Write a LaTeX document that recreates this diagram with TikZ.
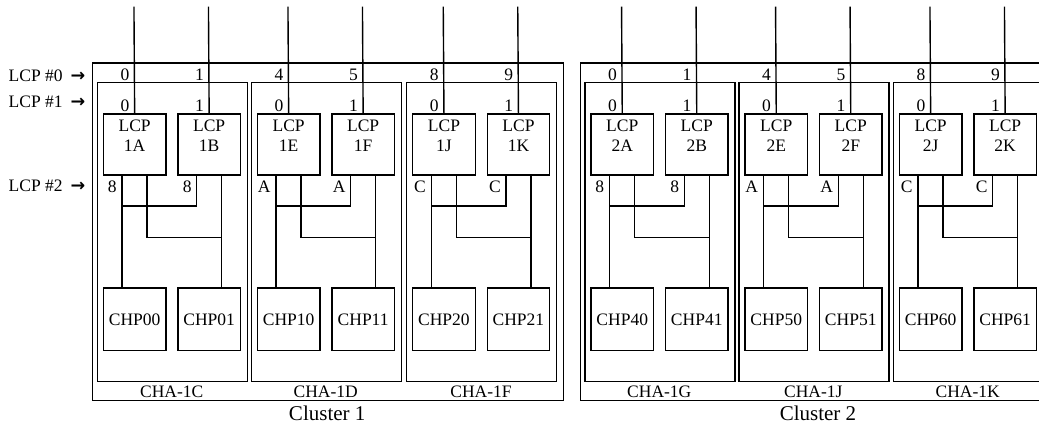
\documentclass[tikz,border=0pt]{standalone}
\usepackage{fontspec}
\setmainfont{Liberation Serif}
\newfontfamily\arrowfont{DejaVu Sans}
\begin{document}
\begin{tikzpicture}[x=1pt,y=-1pt,line width=1.4pt,
  font=\fontsize{17.5}{20}\selectfont,
  unit/.style={draw,minimum width=62.5pt,minimum height=61pt,anchor=north west,inner sep=0pt},
  chp/.style={draw,minimum width=62.5pt,minimum height=62.7pt,anchor=north west,inner sep=0pt},
  frame/.style={draw,anchor=north west,inner sep=0pt},
  num/.style={anchor=base east,inner sep=0pt},
  lbl/.style={anchor=base,inner sep=0pt},
  side/.style={anchor=base west,inner sep=0pt},
  big/.style={anchor=base,inner sep=0pt,font=\fontsize{21}{24}\selectfont}]
\clip (0,0) rectangle (1039,423);
% clusters
\node[frame,minimum width=471pt,minimum height=337.7pt] (cl1) at (91.7,62.3) {};
\node[frame,minimum width=476pt,minimum height=337.7pt] (cl2) at (580,62.3) {};
\node[big] (cl1t) at (327.2,420) {Cluster 1};
\node[big] (cl2t) at (818,420) {Cluster 2};
% left labels
\node[side] (r0) at (8,81.5) {LCP \#0\hspace{8pt}{\arrowfont\bfseries →}};
\node[side] (r1) at (8,107.5) {LCP \#1\hspace{8pt}{\arrowfont\bfseries →}};
\node[side] (r2) at (8,191.5) {LCP \#2\hspace{8pt}{\arrowfont\bfseries →}};
\foreach \i/\L/\a/\b/\ta/\tb/\c/\cha/\pa/\pb in {
  1/96.7/1A/1B/0/1/8/CHA-1C/CHP00/CHP01,
  2/250.7/1E/1F/4/5/A/CHA-1D/CHP10/CHP11,
  3/406/1J/1K/8/9/C/CHA-1F/CHP20/CHP21,
  4/584.3/2A/2B/0/1/8/CHA-1G/CHP40/CHP41,
  5/738.3/2E/2F/4/5/A/CHA-1J/CHP50/CHP51,
  6/892.7/2J/2K/8/9/C/CHA-1K/CHP60/CHP61}{
  \node[frame,minimum width=150pt,minimum height=299pt] (cha\i) at (\L,82) {};
  \node[lbl] (chat\i) at ({\L+75},397.5) {\cha};
  \node[unit,label={[anchor=north,align=center,inner sep=0pt,yshift=-5.7pt]north:LCP\\\a}] (la\i) at ({\L+6},113.3) {};
  \node[unit,label={[anchor=north,align=center,inner sep=0pt,yshift=-5.7pt]north:LCP\\\b}] (lb\i) at ({\L+80.5},113.3) {};
  \node[chp] (ca\i) at ({\L+6},287.3) {\pa};
  \node[chp] (cb\i) at ({\L+80.5},287.3) {\pb};
  % labels
  \node[num] (ta\i) at ({\L+37.25-4},80) {\ta};
  \node[num] (tb\i) at ({\L+111.75-4},80) {\tb};
  \node[num] (sa\i) at ({\L+37.25-4},111) {0};
  \node[num] (sb\i) at ({\L+111.75-4},111) {1};
  \node[num] (ba\i) at ({\L+25-4.5},192.5) {\c};
  \node[num] (bb\i) at ({\L+100-4.5},192.5) {\c};
  % connectors
  \coordinate (pa\i) at ({\L+37.25},6.7);
  \coordinate (pb\i) at ({\L+111.75},6.7);
  \draw (pa\i) -- (la\i.north);
  \draw (pb\i) -- (lb\i.north);
  \coordinate (ja\i) at ({\L+25},206);
  \coordinate (jb\i) at ({\L+125},237.7);
  \draw ([xshift=-12.5pt]la\i.south) -- ([xshift=-12.5pt]ca\i.north);
  \draw ([xshift=12.5pt]lb\i.south) -- ([xshift=12.5pt]cb\i.north);
  \draw ([xshift=-12.5pt]lb\i.south) |- (ja\i);
  \draw ([xshift=12.5pt]la\i.south) |- (jb\i);
}
\end{tikzpicture}
\end{document}
